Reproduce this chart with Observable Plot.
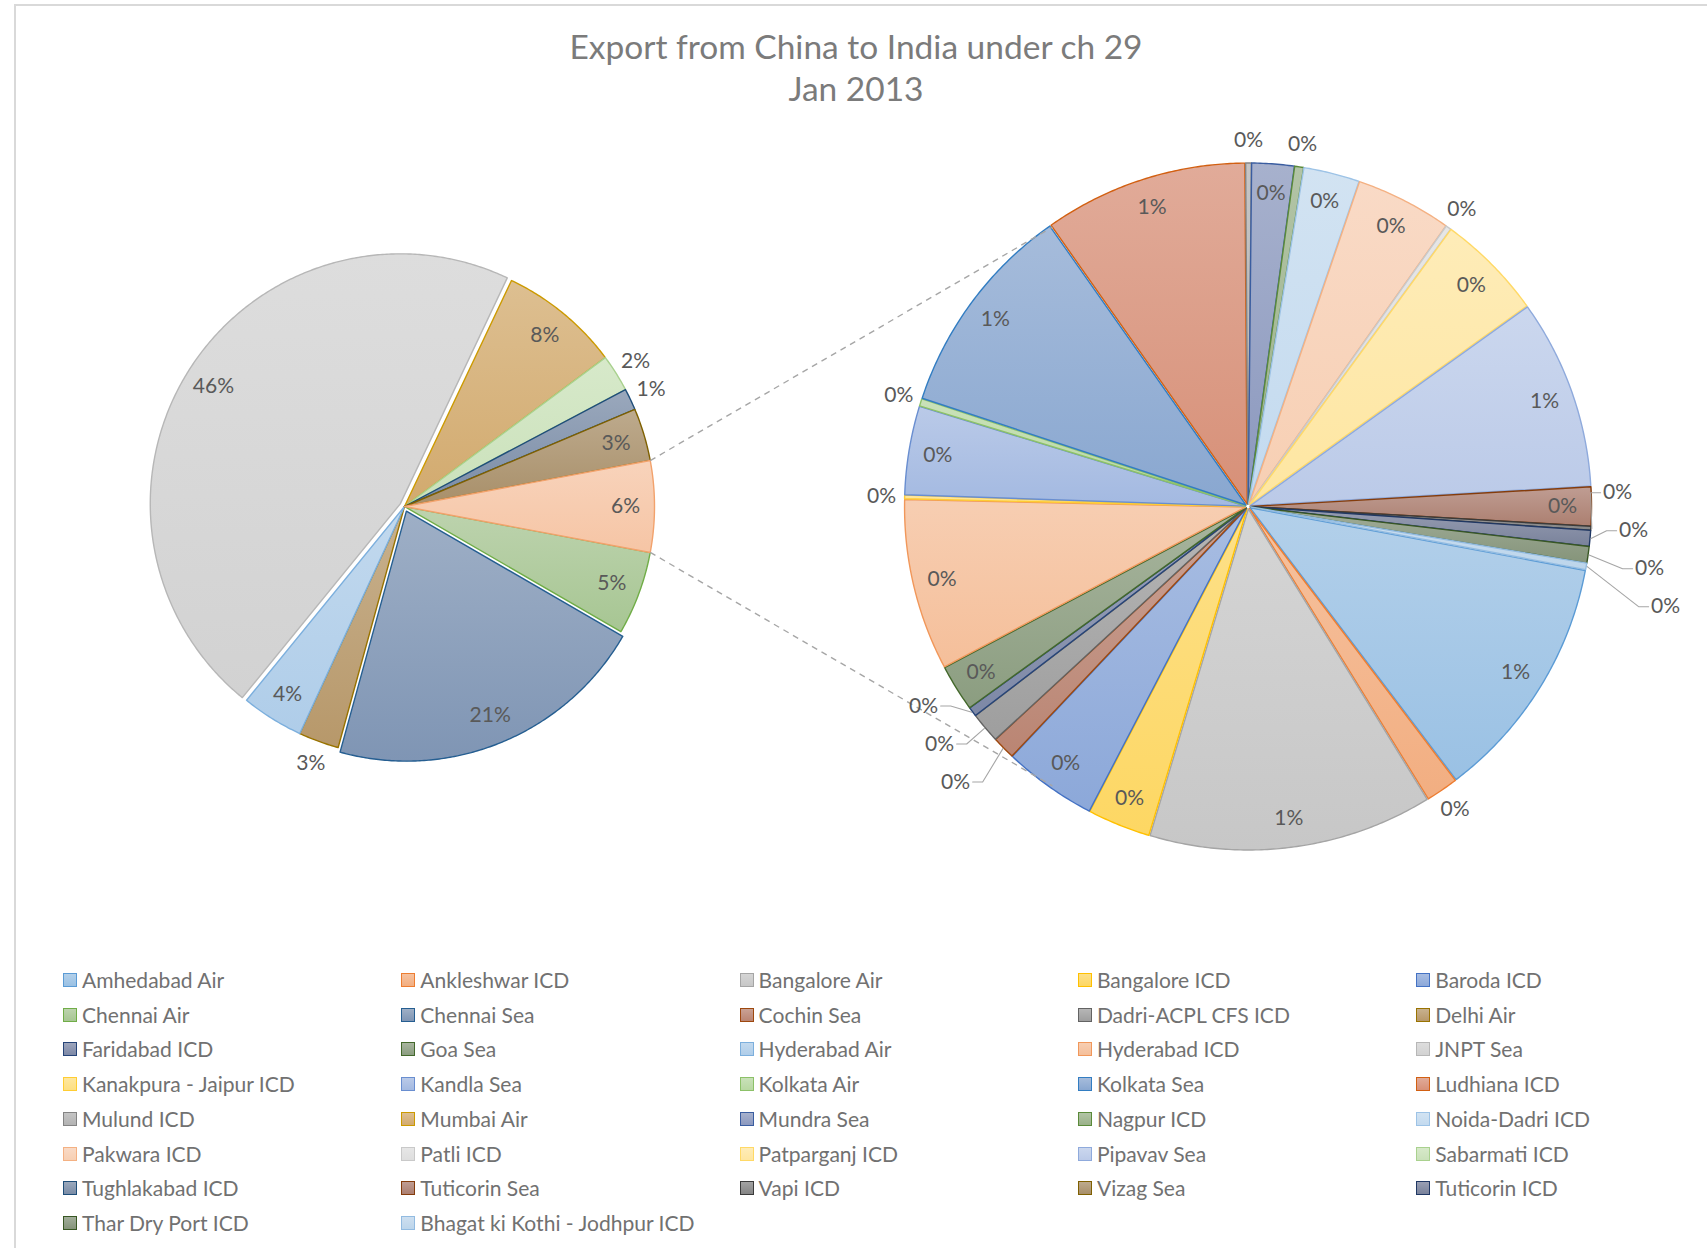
<!DOCTYPE html>
<html><head><meta charset="utf-8">
<script src="https://cdn.jsdelivr.net/npm/d3@7"></script>
<script src="https://cdn.jsdelivr.net/npm/@observablehq/plot@0.6"></script>
<style>
html,body{margin:0;padding:0;background:#fff;overflow:hidden;}
#page{position:relative;width:1707px;height:1248px;overflow:hidden;}
#frame{position:absolute;left:14px;top:4px;width:1720px;height:1260px;border-top:2px solid #d9d9d9;border-left:2px solid #d9d9d9;}
#chart{position:absolute;left:0;top:0;}
.tl{position:absolute;left:15px;width:1682px;text-align:center;color:#7b7b7b;white-space:nowrap;}
.item{position:absolute;white-space:nowrap;color:#717171;}
.sw{position:absolute;box-sizing:border-box;}
</style></head>
<body><div id="page"><div id="frame"></div><div id="chart"></div><div id="title"></div><div id="legend"></div></div>
<script>
// ---------------- data ----------------
const titleLines = ["Export from China to India under ch 29", "Jan 2013"];
const categories = ["Amhedabad Air","Ankleshwar ICD","Bangalore Air","Bangalore ICD","Baroda ICD",
  "Chennai Air","Chennai Sea","Cochin Sea","Dadri-ACPL CFS ICD","Delhi Air",
  "Faridabad ICD","Goa Sea","Hyderabad Air","Hyderabad ICD","JNPT Sea",
  "Kanakpura - Jaipur ICD","Kandla Sea","Kolkata Air","Kolkata Sea","Ludhiana ICD",
  "Mulund ICD","Mumbai Air","Mundra Sea","Nagpur ICD","Noida-Dadri ICD",
  "Pakwara ICD","Patli ICD","Patparganj ICD","Pipavav Sea","Sabarmati ICD",
  "Tughlakabad ICD","Tuticorin Sea","Vapi ICD","Vizag Sea","Tuticorin ICD",
  "Thar Dry Port ICD","Bhagat ki Kothi - Jodhpur ICD"];
// share of total exports, percent
const shares = [0.69,0.09,0.79,0.175,0.26,
  5.4,20.9,0.064,0.085,2.6,
  0.026,0.13,4.0,0.477,46.1,
  0.01,0.247,0.02,0.598,0.567,
  0.016,7.8,0.118,0.025,0.156,
  0.267,0.015,0.297,0.528,2.4,
  1.4,0.108,0.011,3.4,0.044,
  0.046,0.018];
const splitBelow = 1; // points below this share go to the second pie
const otherName = "Other";

// ---------------- styles ----------------
const palette = ["#5B9BD5","#ED7D31","#A5A5A5","#FFC000","#4472C4","#70AD47","#255E91","#9E480E","#636363","#997300",
  "#264478","#43682B","#7CAFDD","#F1975A","#B7B7B7","#FFCD33","#698ED0","#8CC168","#327DC2","#D26012",
  "#848484","#CC9A00","#3A5DA0","#5A8A39","#9DC3E6","#F4B183","#C9C9C9","#FFD966","#8FAADC","#A9D18E",
  "#1F4E79","#843C0C","#3B3B3B","#7F6000","#203864","#385723","#92BBE1"];
const otherColor = "#F2A26C";
const FONT = "Lato, 'Open Sans', sans-serif";
const MAIN = {cx: 404, cy: 506, r: 250};
const SEC = {cx: 1247.5, cy: 506, r: 341};
const mainExplode = {"JNPT Sea": 5, "Chennai Sea": 5};
const secExplode = 2.5;
const connectorSpread = 55;
const W = 1707, H = 960;

// ---------------- helpers ----------------
function tone(c, t) {
  const base = d3.hsl(c);
  const m = d3.hsl(d3.interpolateRgb(c, "#ffffff")(t));
  if (!(m.s > 0.03) || isNaN(m.h)) return m.formatHex();
  const dark = base.l < 0.5;
  m.s *= dark ? 0.8 : 0.97;
  if (dark) {
    if (m.h < 70) m.h = Math.max(0, m.h - 9);
    else if (m.h > 180 && m.h < 260) m.h += 6;
  }
  return m.formatHex();
}
const rad = a => a * Math.PI / 180;
const polar = (cx, cy, r, a) => [cx + r * Math.sin(rad(a)), cy - r * Math.cos(rad(a))];
const ctx = document.createElement("canvas").getContext("2d");
function fitSize(text, target, weight = 400) {
  ctx.font = `${weight} 100px ${FONT}`;
  return 100 * target / ctx.measureText(text).width;
}

const total = d3.sum(shares);
const items = categories.map((name, i) => ({name, key: "g" + i, v: shares[i], color: palette[i]}));
const secItems = items.filter(d => d.v < splitBelow);
const otherV = d3.sum(secItems, d => d.v);
const otherItem = {name: otherName, key: "gother", v: otherV, color: otherColor};
const mainItems = [...items.filter(d => d.v >= splitBelow), otherItem];
const otherDeg = otherV / total * 360;
const startDeg = 90 + otherDeg / 2;

function layout(list, sum) {
  let a = startDeg;
  return list.map(d => { const span = d.v / sum * 360; const o = {...d, a0: a, a1: a + span, span}; a += span; return o; });
}
const mainSlices = layout(mainItems, total);
const secSlices = layout(secItems, otherV);

const labelSize = fitSize("46%", 39) * 1.06;
const pct = v => Math.round(v / total * 100) + "%";

const slicePts = [], labels = [], leaders = [], connectors = [];
function buildPie(slices, pie, explodeOf, insideMin, tag) {
  const out = [];
  slices.forEach(s => {
    const mid = (s.a0 + s.a1) / 2;
    const e = explodeOf(s);
    const [cx, cy] = polar(pie.cx, pie.cy, e, mid);
    const id = tag + s.key;
    slicePts.push({id, x: cx, y: cy, fill: `url(#${s.key})`, stroke: s.color});
    const n = Math.max(2, Math.ceil(s.span / 0.5));
    for (let k = 0; k <= n; k++) {
      const [x, y] = polar(cx, cy, pie.r, s.a0 + s.span * k / n);
      slicePts.push({id, x, y, fill: `url(#${s.key})`, stroke: s.color});
    }
    const text = pct(s.v);
    if (s.span >= insideMin) {
      const [x, y] = polar(cx, cy, pie.r - 29, mid);
      labels.push({x, y, text});
    } else {
      const [x, y] = polar(cx, cy, pie.r + 23, mid);
      const [ex, ey] = polar(cx, cy, pie.r + 1, mid);
      out.push({x, y, x0: x, y0: y, ex, ey, text, side: Math.sin(rad(mid)) >= 0 ? 1 : -1});
    }
  });
  const clusters = [];
  out.forEach(l => {
    const last = clusters[clusters.length - 1];
    const prev = last && last[last.length - 1];
    if (prev && Math.abs(prev.x0 - l.x0) < 44 && Math.abs(prev.y0 - l.y0) < 28) last.push(l); else clusters.push([l]);
  });
  clusters.forEach(cl => {
    if (cl.length < 2) return;
    const n = cl.length, mx = d3.mean(cl, d => d.x0), my = d3.mean(cl, d => d.y0), side = cl[0].side;
    cl.forEach((l, k) => { const t = k - (n - 1) / 2; l.y = my + side * 38 * t; l.x = mx + side * (30 + 16 * t); });
  });
  out.forEach((l, i) => {
    labels.push({x: l.x, y: l.y, text: l.text});
    if (Math.hypot(l.x - l.x0, l.y - l.y0) > 8) {
      const id = tag + "L" + i;
      leaders.push({id, x: l.ex, y: l.ey}, {id, x: l.x - l.side * 27, y: l.y}, {id, x: l.x - l.side * 17, y: l.y});
    }
  });
}
buildPie(mainSlices, MAIN, s => mainExplode[s.name] || 0, 11, "m");
buildPie(secSlices, SEC, () => secExplode, 6, "s");

// connector lines from the "Other" slice to the second pie
const oth = mainSlices[mainSlices.length - 1];
[[oth.a0, 270 + connectorSpread], [oth.a1, 270 - connectorSpread]].forEach(([am, as], i) => {
  const [x1, y1] = polar(MAIN.cx, MAIN.cy, MAIN.r, am);
  const [x2, y2] = polar(SEC.cx, SEC.cy, SEC.r, as);
  connectors.push({id: i, x: x1, y: y1}, {id: i, x: x2, y: y2});
});

const svg = Plot.plot({
  width: W, height: H, margin: 0,
  x: {domain: [0, W], range: [0, W], axis: null},
  y: {domain: [0, H], range: [0, H], axis: null},
  color: {type: "identity"},
  style: {fontFamily: FONT, background: "transparent", overflow: "visible"},
  marks: [
    Plot.line(slicePts, {x: "x", y: "y", z: "id", fill: "fill", stroke: "stroke", strokeWidth: 1.4, curve: "linear-closed", strokeLinejoin: "round"}),
    Plot.line(connectors, {x: "x", y: "y", z: "id", stroke: "#a6a6a6", strokeWidth: 1.4, strokeDasharray: "6,5", strokeLinecap: "butt"}),
    Plot.line(leaders, {x: "x", y: "y", z: "id", stroke: "#a6a6a6", strokeWidth: 1.1}),
    Plot.text(labels, {x: "x", y: "y", text: "text", fill: "#595959", fontSize: labelSize})
  ]
});
// gradient fills (light at the top, slightly deeper at the bottom)
const ns = "http://www.w3.org/2000/svg";
const defs = document.createElementNS(ns, "defs");
[...items, otherItem].forEach(d => {
  const g = document.createElementNS(ns, "linearGradient");
  g.setAttribute("id", d.key); g.setAttribute("x1", 0); g.setAttribute("y1", 0); g.setAttribute("x2", 0); g.setAttribute("y2", 1);
  [[0, tone(d.color, 0.53)], [1, tone(d.color, 0.38)]].forEach(([o, c]) => {
    const st = document.createElementNS(ns, "stop"); st.setAttribute("offset", o); st.setAttribute("stop-color", c); g.appendChild(st);
  });
  defs.appendChild(g);
});
svg.insertBefore(defs, svg.firstChild);
document.getElementById("chart").appendChild(svg);

// title
const titleSize = fitSize(titleLines[0], 574, 400);
const titleDiv = document.getElementById("title");
titleLines.forEach((t, i) => {
  const d = document.createElement("div");
  d.className = "tl"; d.textContent = t;
  d.style.fontFamily = FONT; d.style.fontWeight = 400; d.style.fontSize = titleSize + "px";
  d.style.lineHeight = "40px"; d.style.top = (46 + i * 42 - 20) + "px";
  titleDiv.appendChild(d);
});

// legend
const legSize = fitSize("Amhedabad Air", 143);
const legend = document.getElementById("legend");
items.forEach((d, k) => {
  const col = k % 5, row = Math.floor(k / 5);
  const x = 63 + 338.3 * col, y = 980 + 34.7 * row;
  const sw = document.createElement("div");
  sw.className = "sw";
  Object.assign(sw.style, {left: x + "px", top: (y - 7) + "px", width: "14px", height: "14px",
    border: `1.6px solid ${d.color}`, background: `linear-gradient(${tone(d.color, 0.53)}, ${tone(d.color, 0.38)})`});
  legend.appendChild(sw);
  const t = document.createElement("div");
  t.className = "item"; t.textContent = d.name;
  Object.assign(t.style, {left: (x + 19) + "px", top: (y - 15) + "px", lineHeight: "30px", fontSize: legSize + "px", fontFamily: FONT});
  legend.appendChild(t);
});
</script></body></html>
